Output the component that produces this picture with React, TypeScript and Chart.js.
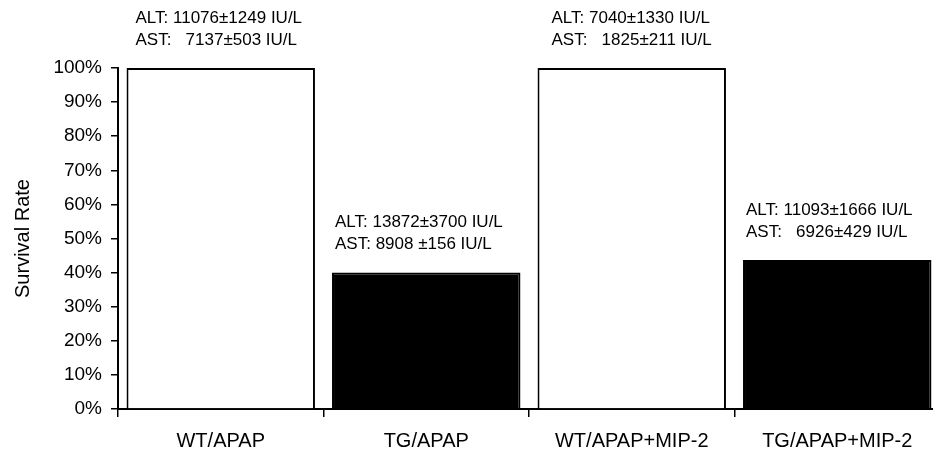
import React, { useEffect, useRef } from "react";
import { Chart, registerables } from "chart.js";

Chart.register(...registerables);

const categories = ["WT/APAP", "TG/APAP", "WT/APAP+MIP-2", "TG/APAP+MIP-2"];
const survivalRate = [100, 40, 100, 43.7];
const altText = [
  "ALT: 11076±1249 IU/L",
  "ALT: 13872±3700 IU/L",
  "ALT: 7040±1330 IU/L",
  "ALT: 11093±1666 IU/L",
];
const astText = [
  "AST:   7137±503 IU/L",
  "AST: 8908 ±156 IU/L",
  "AST:   1825±211 IU/L",
  "AST:   6926±429 IU/L",
];
const barFill = ["#ffffff", "#000000", "#ffffff", "#000000"];

// layout-only constants
const textLeftOffset = [9, 3, 14, 3];
const FONT = "'Liberation Sans', Arial, Helvetica, sans-serif";

const annotationPlugin = {
  id: "annotations",
  afterDatasetsDraw(chart: any) {
    const ctx = chart.ctx;
    const meta = chart.getDatasetMeta(0);
    ctx.save();
    ctx.fillStyle = "#000";
    ctx.font = `17px ${FONT}`;
    ctx.textBaseline = "middle";
    ctx.textAlign = "left";
    meta.data.forEach((bar: any, i: number) => {
      const left = bar.x - bar.width / 2 + textLeftOffset[i];
      const top = bar.y;
      ctx.fillText(altText[i], left, top - 50);
      ctx.fillText(astText[i], left, top - 28);
    });
    ctx.restore();
  },
};

export default function App() {
  const ref = useRef<HTMLCanvasElement>(null);
  useEffect(() => {
    document.body.style.margin = "0";
    const chart = new Chart(ref.current!, {
      type: "bar",
      data: {
        labels: categories,
        datasets: [
          {
            data: survivalRate,
            backgroundColor: barFill,
            borderColor: "#000",
            borderWidth: 2,
            barPercentage: 0.917,
            categoryPercentage: 1,
          },
        ],
      },
      plugins: [annotationPlugin],
      options: {
        animation: false,
        responsive: true,
        maintainAspectRatio: false,
        layout: { padding: { top: 68, right: 0, bottom: 0, left: 0 } },
        plugins: { legend: { display: false }, tooltip: { enabled: false } },
        scales: {
          x: {
            afterFit(scale: any) {
              scale.height = 51;
            },
            grid: {
              display: true,
              offset: true,
              drawOnChartArea: false,
              drawTicks: true,
              tickLength: 8,
              color: "#000",
              lineWidth: 1.5,
            },
            border: { display: true, color: "#000", width: 2 },
            ticks: {
              color: "#000",
              padding: 12,
              maxRotation: 0,
              font: { family: FONT, size: 20 },
            },
          },
          y: {
            min: 0,
            max: 100,
            afterFit(scale: any) {
              scale.width = 118;
            },
            grid: {
              display: true,
              drawOnChartArea: false,
              drawTicks: true,
              tickLength: 7,
              color: "#000",
              lineWidth: 1.5,
            },
            border: { display: true, color: "#000", width: 2 },
            ticks: {
              stepSize: 10,
              color: "#000",
              padding: 9,
              font: { family: FONT, size: 19 },
              callback: (v: any) => `${v}%`,
            },
            title: {
              display: true,
              text: "Survival Rate",
              color: "#000",
              font: { family: FONT, size: 20 },
              padding: { top: 11, bottom: 0 },
            },
          },
        },
      },
    });
    return () => chart.destroy();
  }, []);
  return (
    <div style={{ width: 933, height: 460, overflow: "hidden" }}>
      <div style={{ width: 940, height: 460, position: "relative" }}>
        <canvas ref={ref} />
      </div>
    </div>
  );
}
